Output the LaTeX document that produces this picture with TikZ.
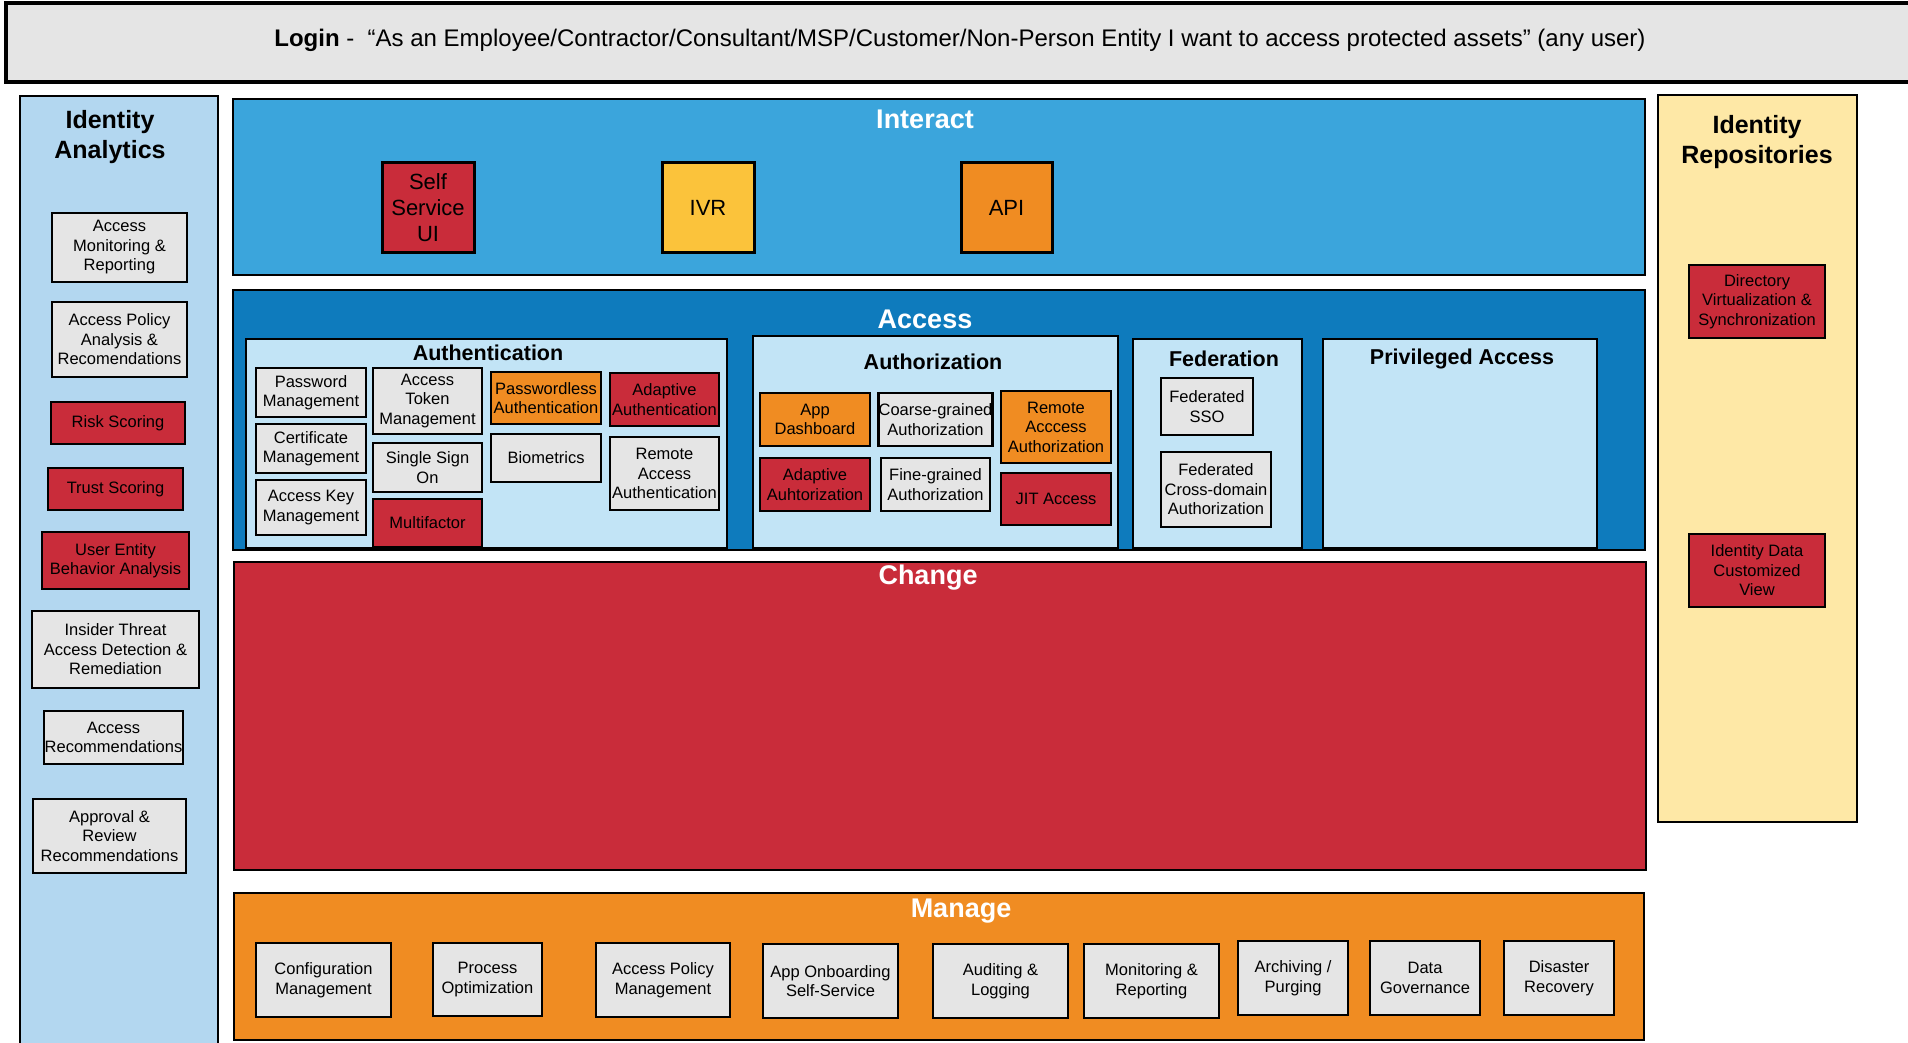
\documentclass[tikz,border=0pt]{standalone}
\usepackage{fontspec}
\setmainfont{Liberation Sans}
\definecolor{gbox}{HTML}{E5E5E5}
\definecolor{rbox}{HTML}{C92C3A}
\definecolor{obox}{HTML}{F08C22}
\definecolor{ybox}{HTML}{FBC33B}
\definecolor{iblue}{HTML}{3BA5DC}
\definecolor{ablue}{HTML}{0E7BBD}
\definecolor{lblue}{HTML}{C2E4F6}
\definecolor{lpanel}{HTML}{B3D7F0}
\definecolor{ypanel}{HTML}{FEE8A6}
\definecolor{lgray}{HTML}{E5E5E5}
\newcommand{\fs}{\fontsize{16.5}{19.5}\selectfont}
\newcommand{\fbig}{\fontsize{22}{26}\selectfont}
\newcommand{\ftitle}{\fontsize{21.5}{25}\selectfont\bfseries}
\newcommand{\fpanel}{\fontsize{27}{30}\selectfont\bfseries}
\newcommand{\fside}{\fontsize{25}{30}\selectfont\bfseries}
% \bx{name}{x1}{y1}{x2}{y2}{style}{text}
\newcommand{\bx}[7]{\node[#6, minimum width=#4pt-#2pt, minimum height=#5pt-#3pt] (#1) at ({(#2+#4)/2},{(#3+#5)/2}) {#7};}
\tikzset{
  bxs/.style={draw=black, line width=2.5pt, align=center, inner sep=0pt, font=\fs, text=black},
  gbx/.style={bxs, fill=gbox},
  rbx/.style={bxs, fill=rbox},
  obx/.style={bxs, fill=obox},
  ybx/.style={bxs, fill=ybox},
  panel/.style={draw=black, line width=2pt, inner sep=0pt},
  subpanel/.style={panel, fill=lblue},
  ptitle/.style={font=\fpanel, text=white, inner sep=0pt},
  stitle/.style={font=\ftitle, text=black, inner sep=0pt},
  sidetitle/.style={font=\fside, text=black, inner sep=0pt, align=center},
}
\begin{document}
\begin{tikzpicture}[x=1pt, y=-1pt]
\useasboundingbox (0,0) rectangle (1908,1043);
\fill[white] (0,0) rectangle (1908,1043);
% login bar
\bx{login}{6}{3}{1920}{82}{panel, fill=lgray, line width=3.5pt}{}
\node[font=\fontsize{24}{28}\selectfont, inner sep=0pt] (logintext) at (960,40) {\textbf{Login} -\ \ “As an Employee/Contractor/Consultant/MSP/Customer/Non-Person Entity I want to access protected assets” (any user)};
% identity analytics
\bx{ia}{20}{96}{218}{1060}{panel, fill=lpanel}{}
\node[sidetitle] (iatitle) at (110,137) {Identity\\Analytics};
\bx{ia1}{52}{213}{187}{282}{gbx}{Access\\Monitoring \&\\Reporting}
\bx{ia2}{52}{302}{187}{377}{gbx}{Access Policy\\Analysis \&\\Recomendations}
\bx{ia3}{51}{402}{185}{444}{rbx}{Risk Scoring}
\bx{ia4}{48}{468}{183}{510}{rbx}{Trust Scoring}
\bx{ia5}{42}{532}{189}{589}{rbx}{User Entity\\Behavior Analysis}
\bx{ia6}{32}{611}{199}{688}{gbx}{Insider Threat\\Access Detection \&\\Remediation}
\bx{ia7}{44}{711}{183}{764}{gbx}{Access\\Recommendations}
\bx{ia8}{33}{799}{186}{873}{gbx}{Approval \&\\Review\\Recommendations}
% interact
\bx{interact}{233}{99}{1645}{275}{panel, fill=iblue}{}
\node[ptitle] (interacttitle) at (925,119) {Interact};
\bx{ssui}{382}{163}{474}{252}{rbx, font=\fbig, line width=3pt}{Self\\Service\\UI}
\bx{ivr}{662}{163}{754}{252}{ybx, font=\fbig, line width=3pt}{IVR}
\bx{api}{961}{163}{1052}{252}{obx, font=\fbig, line width=3pt}{API}
% access
\bx{access}{233}{290}{1645}{550}{panel, fill=ablue, line width=2.5pt}{}
\node[ptitle] (accesstitle) at (925,319) {Access};
\bx{authn}{246}{339}{727}{548}{subpanel}{}
\node[stitle] (authntitle) at (488,353) {Authentication};
\bx{pwm}{256}{368}{366}{417}{gbx}{Password\\Management}
\bx{cert}{256}{424}{366}{473}{gbx}{Certificate\\Management}
\bx{akm}{256}{480}{366}{535}{gbx}{Access Key\\Management}
\bx{atm}{373}{368}{482}{434}{gbx}{Access\\Token\\Management}
\bx{sso}{373}{443}{482}{492}{gbx}{Single Sign\\On}
\bx{mfa}{373}{499}{482}{547}{rbx}{Multifactor}
\bx{pwl}{491}{372}{601}{424}{obx}{Passwordless\\Authentication}
\bx{bio}{491}{434}{601}{482}{gbx}{Biometrics}
\bx{adaptn}{610}{373}{719}{426}{rbx}{Adaptive\\Authentication}
\bx{raa}{610}{437}{719}{510}{gbx}{Remote\\Access\\Authentication}
\bx{authz}{753}{336}{1118}{548}{subpanel}{}
\node[stitle] (authztitle) at (933,362) {Authorization};
\bx{appd}{760}{393}{870}{446}{obx}{App\\Dashboard}
\bx{coarse}{881}{393}{990}{446}{gbx}{Coarse-grained\\Authorization}
\bx{adaptz}{760}{458}{870}{511}{rbx}{Adaptive\\Auhtorization}
\bx{fine}{881}{458}{990}{511}{gbx}{Fine-grained\\Authorization}
\bx{rmz}{1001}{391}{1111}{463}{obx}{Remote\\Acccess\\Authorization}
\bx{jit}{1001}{473}{1111}{525}{rbx}{JIT Access}
\bx{fed}{1133}{339}{1302}{548}{subpanel}{}
\node[stitle] (fedtitle) at (1224,359) {Federation};
\bx{fsso}{1161}{378}{1253}{435}{gbx}{Federated\\SSO}
\bx{fcd}{1161}{452}{1271}{527}{gbx}{Federated\\Cross-domain\\Authorization}
\bx{pam}{1323}{339}{1597}{548}{subpanel}{}
\node[stitle] (pamtitle) at (1462,359) {Privileged Access};
% change
\bx{change}{234}{562}{1646}{870}{panel, fill=rbox, line width=1.2pt}{}
\node[ptitle] (changetitle) at (928,578) {Change};
% manage
\bx{manage}{234}{893}{1644}{1040}{panel, fill=obox}{}
\node[ptitle] (managetitle) at (961,911) {Manage};
\bx{m1}{256}{943}{391}{1017}{gbx}{Configuration\\Management}
\bx{m2}{433}{943}{542}{1016}{gbx}{Process\\Optimization}
\bx{m3}{596}{943}{730}{1017}{gbx}{Access Policy\\Management}
\bx{m4}{763}{944}{898}{1018}{gbx}{App Onboarding\\Self-Service}
\bx{m5}{933}{944}{1068}{1018}{gbx}{Auditing \&\\Logging}
\bx{m6}{1084}{944}{1219}{1018}{gbx}{Monitoring \&\\Reporting}
\bx{m7}{1238}{941}{1348}{1015}{gbx}{Archiving /\\Purging}
\bx{m8}{1370}{941}{1480}{1015}{gbx}{Data\\Governance}
\bx{m9}{1504}{941}{1614}{1015}{gbx}{Disaster\\Recovery}
% identity repositories
\bx{ir}{1658}{95}{1857}{822}{panel, fill=ypanel}{}
\node[sidetitle] (irtitle) at (1757,142) {Identity\\Repositories};
\bx{ir1}{1689}{265}{1825}{338}{rbx}{Directory\\Virtualization \&\\Synchronization}
\bx{ir2}{1689}{534}{1825}{607}{rbx}{Identity Data\\Customized\\View}
\end{tikzpicture}
\end{document}
